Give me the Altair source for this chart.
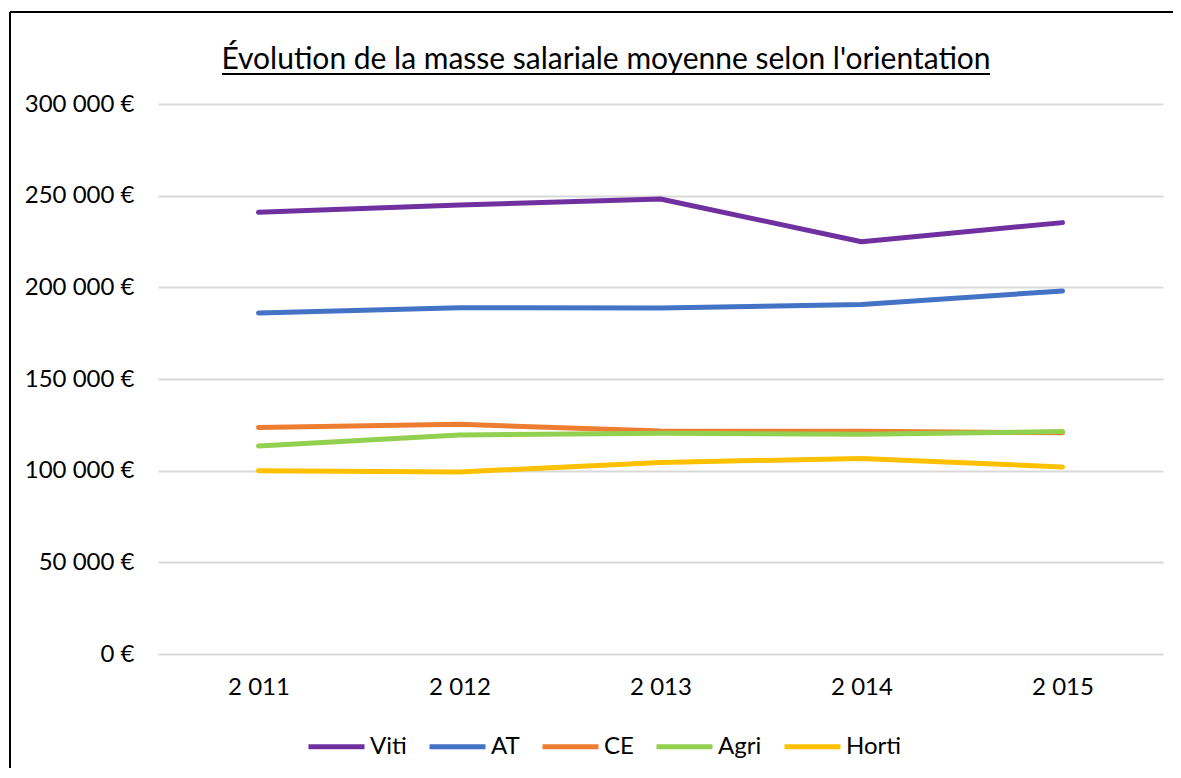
import altair as alt
import pandas as pd

years = ["2 011", "2 012", "2 013", "2 014", "2 015"]
series = ["Viti", "AT", "CE", "Agri", "Horti"]
colors = ["#7030A0", "#4472C4", "#ED7D31", "#92D050", "#FFC000"]
viti = [240900, 244900, 248200, 224900, 235300]
at = [186000, 188900, 188700, 190700, 198000]
ce = [123500, 125300, 121600, 121500, 120700]
agri = [113500, 119500, 120400, 119800, 121300]
horti = [100000, 99300, 104500, 106700, 102000]
title_text = "Évolution de la masse salariale moyenne selon l'orientation"

values = [viti, at, ce, agri, horti]
rows = []
for name, vals in zip(series, values):
    for yr, v in zip(years, vals):
        rows.append({"Année": yr, "Orientation": name, "Masse": v})
df = pd.DataFrame(rows)

FONT = "Lato"
W, H = 1005, 550

lines = alt.Chart(df).mark_line(strokeWidth=5, strokeCap="round", strokeJoin="round").encode(
    x=alt.X("Année:N", sort=years, title=None,
            scale=alt.Scale(type="point", padding=0.5),
            axis=alt.Axis(labelAngle=0, domain=False, ticks=False, grid=False,
                          labelFontSize=24, labelPadding=21, labelColor="#000000", labelFont=FONT)),
    y=alt.Y("Masse:Q", title=None,
            scale=alt.Scale(domain=[0, 300000], nice=False),
            axis=alt.Axis(values=[0, 50000, 100000, 150000, 200000, 250000, 300000],
                          labelExpr="replace(format(datum.value, ','), ',', ' ') + ' €'",
                          domain=False, ticks=False, grid=True, gridColor="#d9d9d9", gridWidth=2,
                          labelFontSize=24, labelPadding=24, labelColor="#000000", labelFont=FONT)),
    color=alt.Color("Orientation:N", sort=series,
                    scale=alt.Scale(domain=series, range=colors),
                    legend=alt.Legend(orient="none", direction="horizontal", title=None,
                                      legendX=148, legendY=612, padding=0,
                                      symbolType="stroke", symbolSize=3136, symbolStrokeWidth=5,
                                      labelFontSize=24, labelFont=FONT, labelColor="#000000",
                                      labelOffset=3, columnPadding=12)),
    order=alt.Order("Année:N"),
)

one = pd.DataFrame({"t": [title_text]})

title = alt.Chart(one).mark_text(fontSize=30, font=FONT, align="center", baseline="alphabetic",
                                  color="#000000").encode(
    text="t:N", x=alt.value(448), y=alt.value(-35))

underline = alt.Chart(one).mark_rule(color="#000000", strokeWidth=2).encode(
    x=alt.value(64), x2=alt.value(832), y=alt.value(-30))

border_top = alt.Chart(one).mark_rule(color="#000000", strokeWidth=2).encode(
    x=alt.value(-148), x2=alt.value(1100), y=alt.value(-92))

border_left = alt.Chart(one).mark_rule(color="#000000", strokeWidth=2).encode(
    x=alt.value(-148), y=alt.value(-92), y2=alt.value(760))

chart = alt.layer(border_top, border_left, lines, title, underline).properties(
    width=W, height=H,
    autosize=alt.AutoSizeParams(type="none"),
    padding={"left": 150, "top": 96, "right": 10, "bottom": 114},
).configure(background="#ffffff").configure_view(strokeOpacity=0, strokeWidth=0)

chart.save("out.html", embed_options={"renderer": "svg", "actions": False})
